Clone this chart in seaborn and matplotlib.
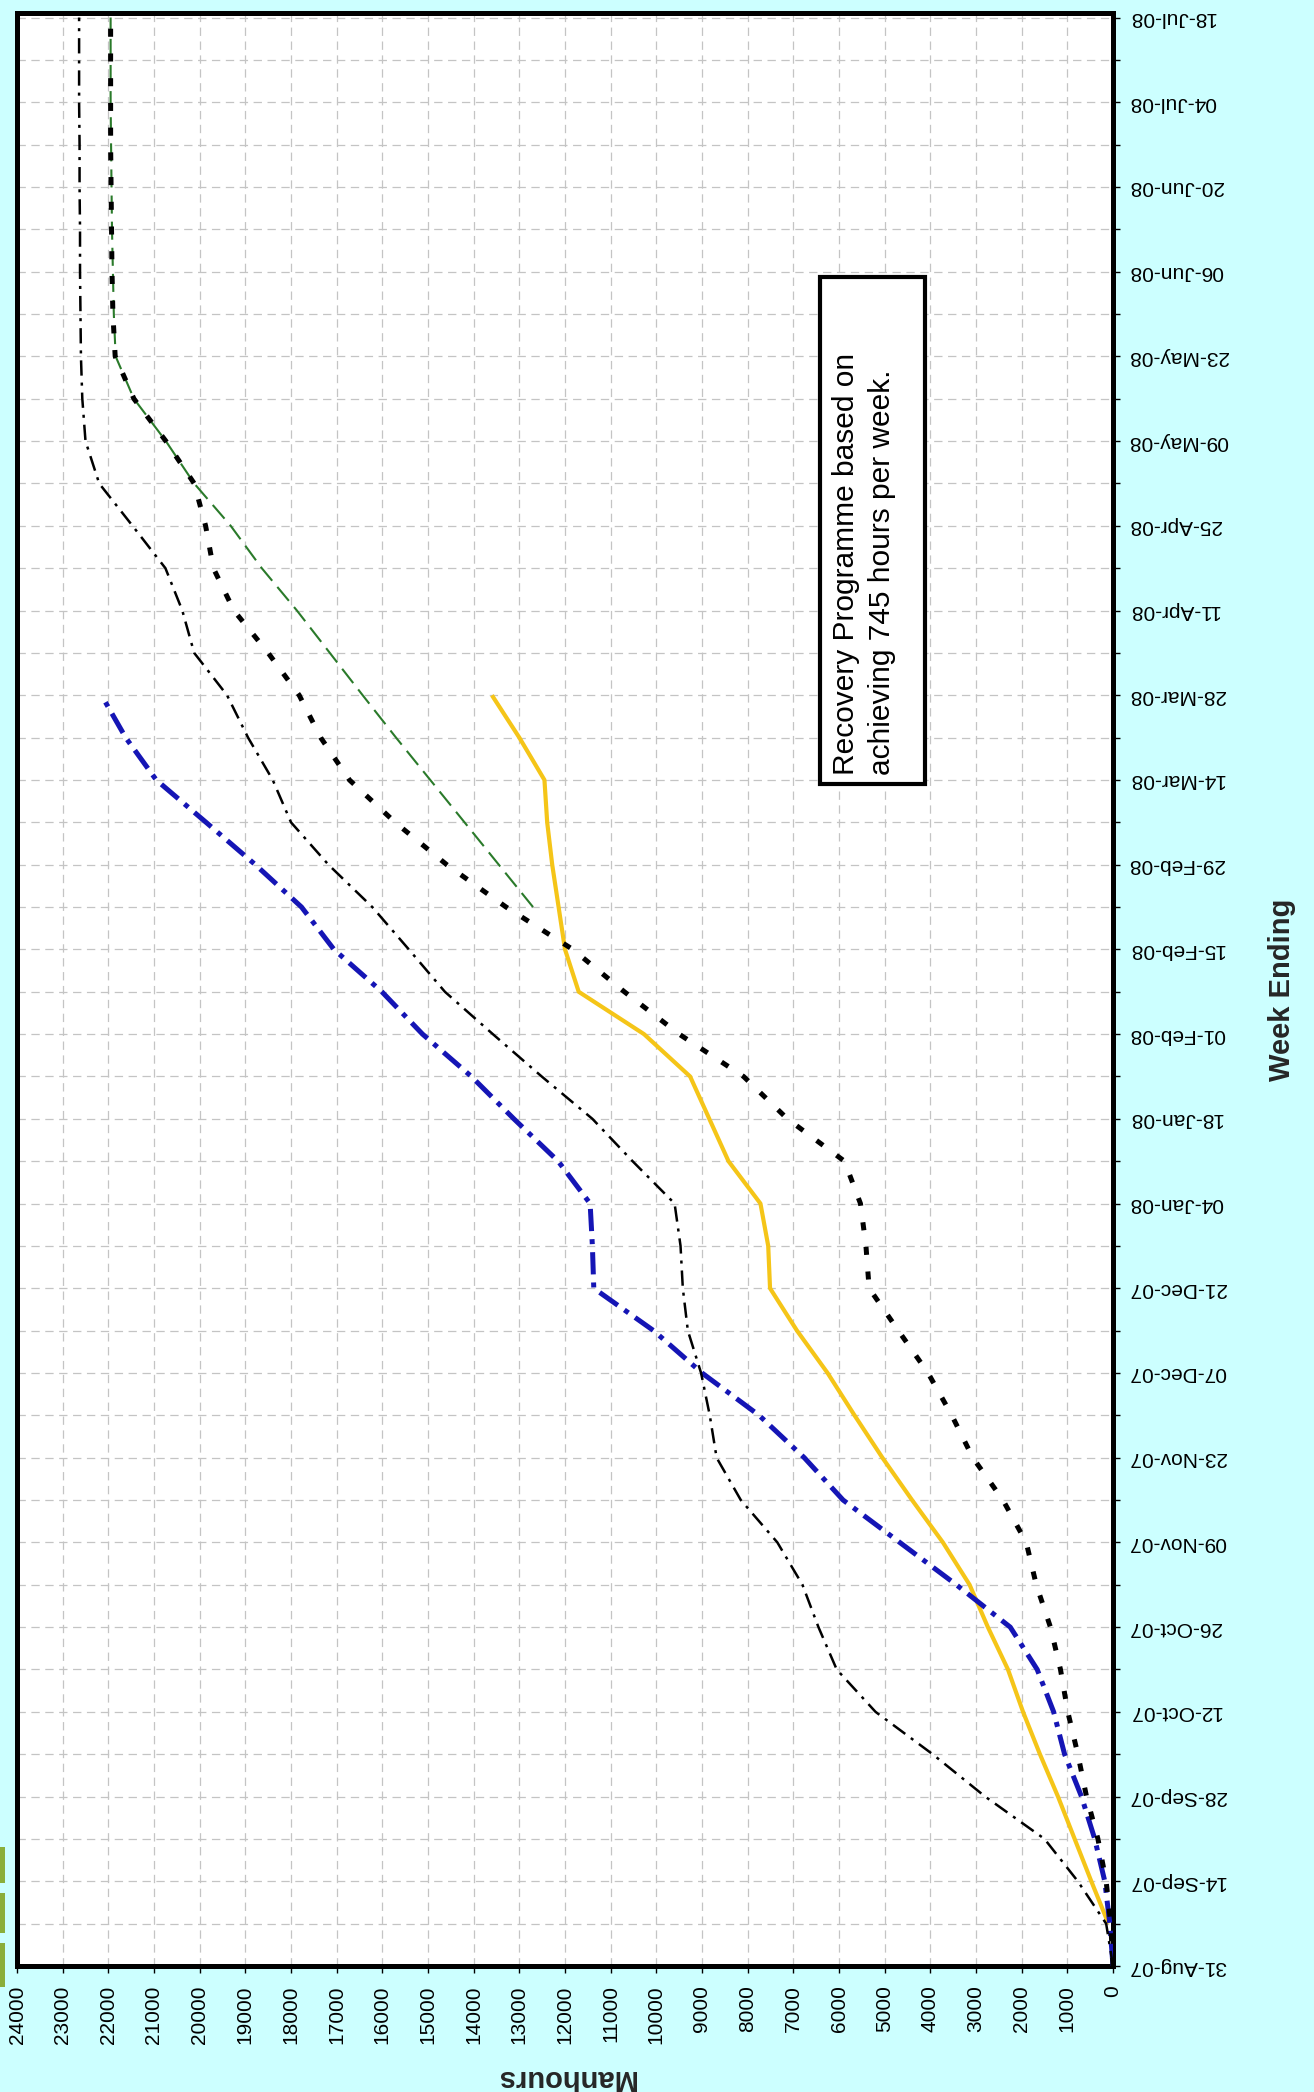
import numpy as np
import pandas as pd
import matplotlib
matplotlib.use("Agg")
import matplotlib.pyplot as plt
from matplotlib.patches import Rectangle
import seaborn as sns

sns.set_theme(style="white")
plt.rcParams["font.family"] = ["Liberation Sans", "DejaVu Sans"]
plt.rcParams["lines.scale_dashes"] = False

nan = np.nan

# ---------------- data ----------------
week_ending = pd.date_range("2007-08-31", "2008-07-18", freq="7D")  # 47 weeks

date_labels = ["31-Aug-07", "14-Sep-07", "28-Sep-07", "12-Oct-07", "26-Oct-07",
               "09-Nov-07", "23-Nov-07", "07-Dec-07", "21-Dec-07", "04-Jan-08",
               "18-Jan-08", "01-Feb-08", "15-Feb-08", "29-Feb-08", "14-Mar-08",
               "28-Mar-08", "11-Apr-08", "25-Apr-08", "09-May-08", "23-May-08",
               "06-Jun-08", "20-Jun-08", "04-Jul-08", "18-Jul-08"]

manhour_ticks = list(range(0, 24001, 1000))
manhour_labels = [str(v) for v in manhour_ticks]

actual_hours = [nan, 100, 475, 840, 1205, 1600, 1970, 2300, 2740, 3140,
                3725, 4400, 5050, 5660, 6250, 6920, 7510, 7550, 7720, 8420,
                8840, 9260, 10270, 11700, 12000, 12140, 12280, 12390, 12450, 13000,
                13600] + [nan] * 16

blue_hours = [0, 70, 180, 400, 690, 1060, 1300, 1660, 2250, 3430,
              4670, 5910, 6760, 7750, 9000, 10060, 11370, 11400, 11450, 12150,
              13120, 14050, 15120, 16010, 17060, 17770, 18780, 19860, 20950, 21620,
              22150] + [nan] * 16

dotted_hours = [0, 50, 150, 330, 580, 770, 990, 1150, 1370, 1680,
                1900, 2410, 3070, 3530, 4050, 4700, 5340, 5410, 5530, 5880,
                7130, 8090, 9500, 10700, 11830, 13290, 14590, 15720, 16720, 17350,
                17820, 18500, 19250, 19700, 19870, 20120, 20740, 21440, 21850, 21900,
                21920, 21930, 21940, 21950, 21950, 21950, 21950]

dashdot_hours = [0, 150, 770, 1500, 2800, 3950, 5200, 6050, 6450, 6800,
                 7350, 8150, 8680, 8830, 9020, 9310, 9420, 9470, 9600, 10520,
                 11400, 12510, 13580, 14630, 15420, 16220, 17180, 18000, 18400, 18940,
                 19400, 20120, 20380, 20750, 21470, 22200, 22500, 22570, 22600, 22610,
                 22620, 22620, 22630, 22630, 22640, 22640, 22640]

recovery_hours = [nan] * 25 + [12700, 13450, 14200, 14950, 15700, 16430, 17150, 17870,
                               18640, 19320, 20120, 20740, 21440, 21840, 21880, 21900,
                               21920, 21930, 21940, 21950, 21950, 21950]

box_text = "Recovery Programme based on\nachieving 745 hours per week."

# ---------------- figure ----------------
W, H = 1314, 2092
fig = plt.figure(figsize=(W / 100, H / 100), dpi=100)
fig.patch.set_facecolor("#CCFFFF")
ax = fig.add_axes([17 / W, 126 / H, 1096 / W, 1953 / H])
ax.set_facecolor("white")

def draw(vals, **kw):
    d = pd.DataFrame({"week": week_ending, "hours": vals}).dropna()
    sns.lineplot(data=d, x="hours", y="week", orient="y", estimator=None,
                 legend=False, ax=ax, **kw)

draw(actual_hours, color="#F5C518", linewidth=3.0, solid_capstyle="butt", zorder=3)
draw(recovery_hours, color="#2A7A2A", linewidth=1.5,
     linestyle=(0, (13, 5.8)), zorder=3)
draw(blue_hours, color="#1515B5", linewidth=3.6,
     linestyle=(0, (16, 5.8, 3.6, 5.8)), zorder=4)
draw(dashdot_hours, color="black", linewidth=1.8,
     linestyle=(0, (11, 5, 2.2, 5)), zorder=4)
draw(dotted_hours, color="black", linewidth=3.6,
     linestyle=(0, (5.8, 12)), zorder=5)

# axes ranges
ax.set_xlim(24000, 0)
ax.set_ylim(week_ending[0], week_ending[-1] + pd.Timedelta(hours=18))

# ticks
ax.set_xticks(manhour_ticks)
ax.set_xticklabels(manhour_labels)
ax.yaxis.tick_right()
ax.set_yticks(week_ending[::2])
ax.set_yticklabels(date_labels)
ax.set_yticks(week_ending[1::2], minor=True)

ax.tick_params(axis="x", which="major", direction="out", length=5, width=1,
               colors="black", labelsize=15, labelrotation=90, pad=9,
               bottom=True)
ax.tick_params(axis="y", which="both", direction="out", length=5, width=1,
               colors="black", right=True, left=False)
ax.tick_params(axis="y", which="major", labelsize=15, labelrotation=180, pad=6)
for t in ax.get_yticklabels():
    t.set_ha("left")
    t.set_va("center")

# grid
grid_kw = dict(color="#C4C4C4", linewidth=0.9, linestyle=(0, (6, 4)))
ax.grid(True, which="major", axis="x", **grid_kw)
ax.grid(True, which="both", axis="y", **grid_kw)
ax.set_axisbelow(True)

for s in ax.spines.values():
    s.set_visible(True)
    s.set_color("black")
    s.set_linewidth(3.6)

# axis labels
ax.set_xlabel("Manhours", fontsize=21, fontweight="bold", rotation=180)
ax.xaxis.set_label_coords(0.5, -0.0573)
ax.xaxis.label.set_va("center")
ax.set_ylabel("Week Ending", fontsize=21, fontweight="bold", rotation=90)
ax.yaxis.set_label_position("right")
ax.yaxis.set_label_coords(1.154, 0.5)
ax.yaxis.label.set_va("center")
ax.yaxis.label.set_ha("center")

# annotation box
ax.add_patch(Rectangle((0.7327, 0.6052), 0.0958, 0.2596, transform=ax.transAxes,
                       facecolor="white", edgecolor="black", linewidth=3,
                       zorder=6))
ax.text(0.7728, 0.6098, box_text, transform=ax.transAxes, rotation=90,
        ha="center", va="bottom", multialignment="left", fontsize=21.5,
        linespacing=1.35, color="black", zorder=7)

# small green fragments at left edge (cropped legend remnants)
for y0, y1 in [(1847, 1883), (1893, 1933), (1943, 1987)]:
    fig.patches.append(Rectangle((0, (H - y1) / H), 5 / W, (y1 - y0) / H,
                                 transform=fig.transFigure, facecolor="#8AAE3A",
                                 edgecolor="none"))

fig.savefig("out.png", dpi=100, facecolor=fig.get_facecolor())
